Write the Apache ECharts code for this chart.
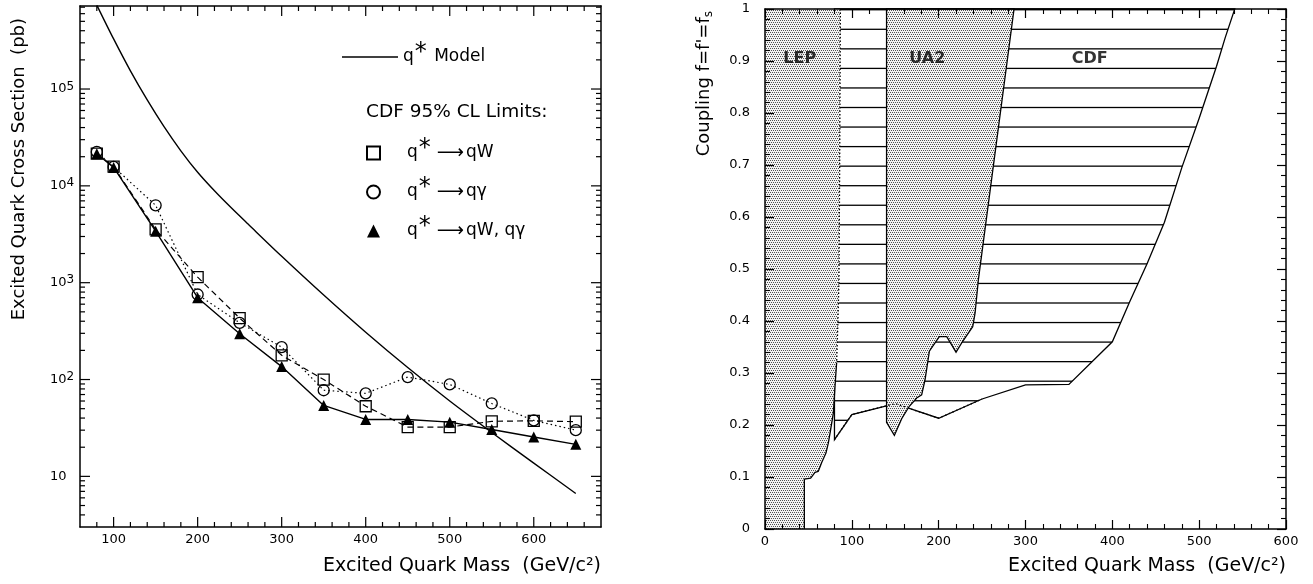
<!DOCTYPE html>
<html><head><meta charset="utf-8">
<script src="https://cdn.jsdelivr.net/npm/echarts@6/dist/echarts.min.js"></script>
<style>html,body{margin:0;padding:0;background:#fff}#c{width:1313px;height:584px}</style>
</head><body><div id="c"></div>
<script>
// ===== Left panel: cross section limits (pb) vs excited quark mass (GeV/c^2) =====
const massPoints     = [80, 100, 150, 200, 250, 300, 350, 400, 450, 500, 550, 600, 650];
const limitQW        = [21500, 15800, 3550, 1140, 431, 178, 100, 53, 32.3, 32.3, 37, 37.5, 36.7];
const limitQGamma    = [22400, 15700, 6300, 755, 385, 216, 77.5, 72, 106, 89, 56.6, 37.8, 30];
const limitCombined  = [21500, 15500, 3400, 700, 297, 136, 54, 38.7, 38.7, 36.3, 30.5, 25.5, 21.4];
const modelMass      = [80, 100, 120, 140, 160, 180, 200, 220, 240, 260, 300, 350, 400, 450, 500, 550, 600, 650];
const modelXsec      = [736000, 329000, 154000, 77100, 40800, 23000, 13800, 8890, 5930, 4030, 1875, 746, 308, 133, 60, 28.4, 13.7, 6.65];
const leftXTickLabels = [100, 200, 300, 400, 500, 600];
const leftYTickLabels = ['10', '10{e|2}', '10{e|3}', '10{e|4}', '10{e|5}'];

// ===== Right panel: excluded regions in coupling vs mass =====
const lepMass      = [0, 0, 86.8, 86, 85.2, 84, 82.5, 80.6, 78.7, 75.6, 72.9, 70.2, 65.3, 61.4, 57.6, 52.6, 45.3, 45.3];
const lepCoupling  = [0, 1, 1, 0.7, 0.48, 0.4, 0.32, 0.274, 0.223, 0.191, 0.165, 0.146, 0.128, 0.111, 0.109, 0.098, 0.096, 0];
const ua2Mass      = [140, 140, 149, 157.4, 166.2, 174.7, 180.4, 184.3, 189.3, 195.8, 200.8, 209.3, 220, 227.7, 239.2, 241.9, 245.7, 286.8];
const ua2Coupling  = [1, 0.205, 0.18, 0.212, 0.236, 0.252, 0.258, 0.287, 0.342, 0.358, 0.37, 0.37, 0.34, 0.361, 0.389, 0.415, 0.479, 1];
const cdfMass      = [80, 80, 100, 140, 150, 200, 250, 300, 350, 400, 420, 440, 460, 480, 500, 520, 530, 541];
const cdfCoupling  = [1, 0.172, 0.22, 0.237, 0.241, 0.213, 0.25, 0.277, 0.278, 0.36, 0.437, 0.51, 0.59, 0.695, 0.79, 0.89, 0.945, 1];
const regionNames  = ['LEP', 'UA2', 'CDF'];
const rightXTickLabels = [0, 100, 200, 300, 400, 500, 600];
const rightYTickLabels = [0, 0.1, 0.2, 0.3, 0.4, 0.5, 0.6, 0.7, 0.8, 0.9, 1];

// ---------------------------------------------------------------
const FONT = '"DejaVu Sans", "Liberation Sans", sans-serif';
const zip = (a, b) => a.map((v, i) => [v, b[i]]);
const L = { xMin: 60, xMax: 680, yMin: 3, yMax: 720000 };

// tick positions for the left panel (axis structure)
const leftXTicks = [];
for (let v = 80; v <= 660; v += 20) leftXTicks.push(v);
const leftYTicks = [];
for (let e = 0; e <= 5; e++) for (let m = 1; m <= 9; m++) { const v = m * Math.pow(10, e); if (v > L.yMin && v < L.yMax) leftYTicks.push(v); }

// fill patterns
function stipple() {
  const c = document.createElement('canvas'); c.width = 4; c.height = 4;
  const g = c.getContext('2d');
  g.fillStyle = '#f2f2f2'; g.fillRect(0, 0, 4, 4);
  g.fillStyle = '#505050';
  g.fillRect(0, 0, 1, 1); g.fillRect(2, 0, 1, 1); g.fillRect(1, 2, 1, 1); g.fillRect(3, 2, 1, 1);
  return { image: c, repeat: 'repeat' };
}
function hatch() {
  const c = document.createElement('canvas'); c.width = 8; c.height = 584;
  const g = c.getContext('2d');
  g.fillStyle = '#fff'; g.fillRect(0, 0, 8, 584);
  g.strokeStyle = '#000'; g.lineWidth = 1.3;
  for (let k = -2; k < 30; k++) { const y = 29.3 + 19.55 * k; g.beginPath(); g.moveTo(0, y); g.lineTo(8, y); g.stroke(); }
  return { image: c, repeat: 'repeat' };
}

function polygonSeries(name, xs, ys, fill, stroke, z) {
  const pts = zip(xs, ys);
  return {
    type: 'custom', name, xAxisIndex: 2, yAxisIndex: 2, data: pts, z, silent: true,
    renderItem(params, api) {
      if (params.dataIndex !== 0) return null;
      return { type: 'polygon', shape: { points: pts.map(p => api.coord(p)) },
               style: { fill, stroke, lineWidth: 1.3 } };
    }
  };
}
function boundarySeries(xs, ys, dash, z) {
  return { type: 'line', xAxisIndex: 2, yAxisIndex: 2, z, silent: true, symbol: 'none', data: zip(xs, ys),
           lineStyle: { color: '#000', width: 1.3, type: dash } };
}

// ticks for the left panel drawn through the axes' own scales
function leftTickSeries(dim) {
  const vals = dim === 'x' ? leftXTicks : leftYTicks;
  return {
    type: 'custom', xAxisIndex: 0, yAxisIndex: 0, z: 20, silent: true,
    data: vals.map(v => dim === 'x' ? [v, 100] : [300, v]),
    renderItem(params, api) {
      const v = dim === 'x' ? api.value(0) : api.value(1);
      let major;
      if (dim === 'x') major = Math.round(v) % 100 === 0;
      else major = Math.abs(Math.log10(v) - Math.round(Math.log10(v))) < 1e-6;
      const len = major ? 10 : 5;
      const st = () => ({ stroke: '#000', lineWidth: 1.2 });
      if (dim === 'x') {
        const b = api.coord([v, L.yMin]), t = api.coord([v, L.yMax]);
        return { type: 'group', children: [
          { type: 'line', shape: { x1: b[0], y1: b[1], x2: b[0], y2: b[1] - len }, style: st() },
          { type: 'line', shape: { x1: t[0], y1: t[1], x2: t[0], y2: t[1] + len }, style: st() } ] };
      }
      const l = api.coord([L.xMin, v]), r = api.coord([L.xMax, v]);
      return { type: 'group', children: [
        { type: 'line', shape: { x1: l[0], y1: l[1], x2: l[0] + len, y2: l[1] }, style: st() },
        { type: 'line', shape: { x1: r[0], y1: r[1], x2: r[0] - len, y2: r[1] }, style: st() } ] };
    }
  };
}

const axLine = { show: true, onZero: false, lineStyle: { color: '#000', width: 1.5 } };
const tickLS = { color: '#000', width: 1.2 };
const minorLS = { color: '#000', width: 1.1 };
const labelStyle = { color: '#000', fontFamily: FONT, fontSize: 13 };

const qRich = {
  p: { fontFamily: FONT, fontSize: 17, color: '#000', padding: [0, 0, 0, 22] },
  t: { fontFamily: FONT, fontSize: 17, color: '#000' },
  s: { fontFamily: FONT, fontSize: 24, color: '#000', padding: [0, 2, 8, 1] },
  a: { fontFamily: FONT, fontSize: 19, color: '#000', padding: [0, 2, 0, 4] }
};
const qFormatter = first => name => {
  const rest = name.slice(2).replace('→', '').trim();
  const restFmt = name.indexOf('→') >= 0 ? '{a|⟶}{t|' + rest + '}' : '{t| ' + rest + '}';
  return '{' + first + '|q}{s|*}' + restFmt;
};

const leftX = (pos, labels) => ({ gridIndex: 0, type: 'value', min: L.xMin, max: L.xMax, position: pos, axisLine: axLine, z: 10,
  axisTick: { show: false },
  axisLabel: labels ? { margin: 6, ...labelStyle, formatter: v => leftXTickLabels.indexOf(Math.round(v)) < 0 ? '' : String(Math.round(v)) } : { show: false },
  splitLine: { show: false } });
const leftY = (pos, labels) => ({ gridIndex: 0, type: 'log', min: L.yMin, max: L.yMax, position: pos, axisLine: axLine, z: 10,
  axisTick: { show: false },
  axisLabel: labels ? { align: 'left', margin: 30, ...labelStyle,
      rich: { e: { fontFamily: FONT, fontSize: 12, color: '#000', padding: [0, 0, 5, 0] } },
      formatter: v => { const e = Math.log10(v); const r = Math.round(e);
        if (Math.abs(e - r) > 1e-6 || r < 1 || r > 5) return ''; return leftYTickLabels[r - 1]; } } : { show: false },
  splitLine: { show: false } });
const rightX = (pos, labels) => ({ gridIndex: 1, type: 'value', min: 0, max: 600, interval: 100, position: pos, axisLine: axLine, z: 10,
  axisTick: { show: true, inside: true, length: 9, lineStyle: tickLS },
  minorTick: { show: true, splitNumber: 5, length: 5, lineStyle: minorLS },
  axisLabel: labels ? { margin: 6, ...labelStyle, formatter: v => { const i = rightXTickLabels.indexOf(Math.round(v)); return i < 0 ? '' : String(rightXTickLabels[i]); } } : { show: false },
  splitLine: { show: false } });
const rightY = (pos, labels) => ({ gridIndex: 1, type: 'value', min: 0, max: 1, interval: 0.1, position: pos, axisLine: axLine, z: 10,
  axisTick: { show: true, inside: true, length: 9, lineStyle: tickLS },
  minorTick: { show: true, splitNumber: 5, length: 5, lineStyle: minorLS },
  axisLabel: labels ? { margin: 15, ...labelStyle, formatter: v => { const i = rightYTickLabels.findIndex(t => Math.abs(t - v) < 1e-6); return i < 0 ? '' : String(rightYTickLabels[i]); } } : { show: false },
  splitLine: { show: false } });

const hollow = { color: 'rgba(0,0,0,0)', borderColor: '#000', borderWidth: 1.3 };

const option = {
  animation: false,
  backgroundColor: '#fff',
  grid: [
    { left: 80, top: 6, width: 521, height: 521, show: false },
    { left: 765, top: 9, width: 521, height: 520, show: false }
  ],
  xAxis: [ leftX('bottom', true), leftX('top', false), rightX('bottom', true), rightX('top', false) ],
  yAxis: [ leftY('left', true), leftY('right', false), rightY('left', true), rightY('right', false) ],
  legend: [
    { data: [{ name: 'q* Model', icon: 'path://M0,0 L40,0 L40,1.1 L0,1.1 Z' }], left: 342, top: 41, padding: 0, itemWidth: 56, itemHeight: 14, itemGap: 0,
      selectedMode: false, formatter: qFormatter('t'), textStyle: { rich: qRich, color: '#000' } },
    { data: [{ name: 'q* → qW', icon: 'emptyRect', itemStyle: { color: '#000' } },
             { name: 'q* → qγ', icon: 'emptyCircle', itemStyle: { color: '#000' } },
             { name: 'q* → qW, qγ', icon: 'triangle' }],
      orient: 'vertical', left: 366, top: 137, padding: 0, itemWidth: 13, itemHeight: 13, itemGap: 13.5,
      selectedMode: false, formatter: qFormatter('p'), textStyle: { rich: qRich, color: '#000' } }
  ],
  graphic: [
    { type: 'text', x: 19, y: 18, rotation: Math.PI / 2,
      style: { text: 'Excited Quark Cross Section  (pb)', fontFamily: FONT, fontSize: 18, fill: '#000', align: 'right', verticalAlign: 'middle' } },
    { type: 'text', x: 601, y: 566,
      style: { text: 'Excited Quark Mass  (GeV/c²)', fontFamily: FONT, fontSize: 19, fill: '#000', align: 'right', verticalAlign: 'middle' } },
    { type: 'text', x: 704, y: 11, rotation: Math.PI / 2,
      style: { text: 'Coupling f=f\'=f{s|s}', fontFamily: FONT, fontSize: 18, fill: '#000', align: 'right', verticalAlign: 'middle',
               rich: { s: { fontFamily: FONT, fontSize: 12, fill: '#000', padding: [9, 0, 0, 0] } } } },
    { type: 'text', x: 1286, y: 566,
      style: { text: 'Excited Quark Mass  (GeV/c²)', fontFamily: FONT, fontSize: 19, fill: '#000', align: 'right', verticalAlign: 'middle' } },
    { type: 'text', x: 366, y: 112,
      style: { text: 'CDF 95% CL Limits:', fontFamily: FONT, fontSize: 18.5, fill: '#000', align: 'left', verticalAlign: 'middle' } }
  ],
  series: [
    { name: 'q* Model', type: 'line', xAxisIndex: 0, yAxisIndex: 0, data: zip(modelMass, modelXsec), symbol: 'none', smooth: 0.3,
      lineStyle: { color: '#000', width: 1.4 }, itemStyle: { color: '#000' }, z: 3 },
    { name: 'q* → qW', type: 'line', xAxisIndex: 0, yAxisIndex: 0, data: zip(massPoints, limitQW), symbol: 'rect', symbolSize: 11,
      lineStyle: { color: '#000', width: 1.2, type: [6, 4] }, itemStyle: hollow, z: 4 },
    { name: 'q* → qγ', type: 'line', xAxisIndex: 0, yAxisIndex: 0, data: zip(massPoints, limitQGamma), symbol: 'circle', symbolSize: 11,
      lineStyle: { color: '#000', width: 1.2, type: [1.5, 3] }, itemStyle: hollow, z: 5 },
    { name: 'q* → qW, qγ', type: 'line', xAxisIndex: 0, yAxisIndex: 0, data: zip(massPoints, limitCombined), symbol: 'triangle', symbolSize: 11,
      lineStyle: { color: '#000', width: 1.4 }, itemStyle: { color: '#000' }, z: 6 },
    leftTickSeries('x'),
    leftTickSeries('y'),
    polygonSeries('CDF', cdfMass, cdfCoupling, hatch(), '#000', 2),
    polygonSeries('LEP', lepMass, lepCoupling, stipple(), 'none', 3),
    polygonSeries('UA2', ua2Mass, ua2Coupling, stipple(), '#000', 4),
    boundarySeries(lepMass.slice(2, 7), lepCoupling.slice(2, 7), [1.5, 2], 5),
    boundarySeries(lepMass.slice(6), lepCoupling.slice(6), 'solid', 5),
    boundarySeries(cdfMass.slice(1, 7), cdfCoupling.slice(1, 7), [1.5, 2.5], 5),
    { type: 'scatter', xAxisIndex: 2, yAxisIndex: 2, symbolSize: 1, z: 8, silent: true,
      itemStyle: { color: 'rgba(0,0,0,0)' },
      data: [{ name: regionNames[0], value: [40, 0.905] }, { name: regionNames[1], value: [187, 0.905] }, { name: regionNames[2], value: [374, 0.905] }],
      label: { show: true, position: 'inside', formatter: '{b}', fontFamily: FONT, fontSize: 16, fontWeight: 'bold', color: '#000' } }
  ]
};
const chart = echarts.init(document.getElementById('c'), null, { renderer: 'canvas', width: 1313, height: 584 });
chart.setOption(option);
</script></body></html>
